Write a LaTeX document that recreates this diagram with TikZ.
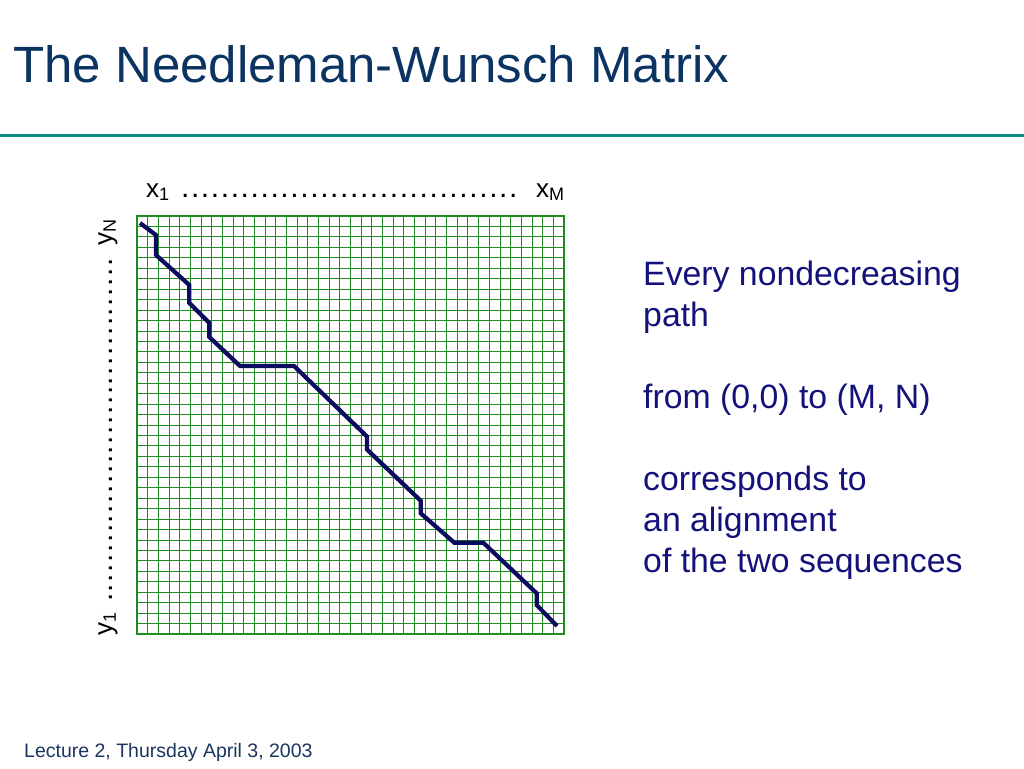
\documentclass[tikz,border=0pt]{standalone}
\usepackage{fontspec}
\setmainfont{Liberation Sans}
\definecolor{titleblue}{HTML}{0B3463}
\definecolor{teal1}{HTML}{0E8A88}
\definecolor{gridgreen}{HTML}{1E8C1E}
\definecolor{pathnavy}{HTML}{0A0A5E}
\definecolor{textnavy}{HTML}{12127A}
\definecolor{footblue}{HTML}{1A3560}
\newcommand{\dotrow}[1]{\hbox to #1{\fontsize{30}{30}\selectfont\xleaders\hbox to 9.75pt{\hss.\hss}\hfill}}
\tikzset{
  gridline/.style={draw=gridgreen, line width=0.9pt},
  gridframe/.style={draw=gridgreen, line width=2pt},
  alignpath/.style={draw=pathnavy, line width=4.2pt, line join=miter},
  bodytext/.style={text=textnavy, font=\fontsize{33.8}{41}\selectfont, anchor=base west, inner sep=0pt, align=left},
  axistext/.style={text=black, font=\fontsize{26}{30}\selectfont, inner sep=0pt},
}
\begin{document}
\begin{tikzpicture}[x=1pt,y=-1pt]
\useasboundingbox (0,0) rectangle (1024,768);
% title
\node[anchor=base west, inner sep=0pt, text=titleblue, font=\fontsize{51}{57}\selectfont] (title) at (13,82) {The Needleman-Wunsch Matrix};
\draw[teal1, line width=3pt] (0,135) -- (1024,135);
% grid
\foreach \i in {1,...,39} {
  \draw[gridline] ({137+\i*10.675},216) -- ({137+\i*10.675},634);
  \draw[gridline] (137,{216+\i*10.45}) -- (564,{216+\i*10.45});
}
\draw[gridframe] (137,216) rectangle (564,634);
% path
\draw[alignpath] (140,223) -- (156,235) -- (156,255) -- (189.3,285) -- (189.3,303) -- (209.3,323) -- (209.3,337) -- (240,366) -- (294,366) -- (367,436.5) -- (367,449.5) -- (420.7,500.7) -- (420.7,513.3) -- (454.3,542.7) -- (483.3,542.7) -- (536.7,593.3) -- (536.7,605) -- (557,626);
% x labels
\node[axistext, anchor=base west] (x1) at (146,197) {x\textsubscript{\fontsize{18}{20}\selectfont 1}};
\node[axistext, anchor=base west] (dotsx) at (180,197) {\dotrow{338pt}};
\node[axistext, anchor=base west] (xM) at (536,197) {x\textsubscript{\fontsize{18}{20}\selectfont M}};
% y labels
\node[axistext, anchor=base west, rotate=90] (y1) at (112,636) {y\textsubscript{\fontsize{18}{20}\selectfont 1}};
\node[axistext, anchor=base west, rotate=90] (dotsy) at (112,603) {\dotrow{345pt}};
\node[axistext, anchor=base west, rotate=90] (yN) at (112,246) {y\textsubscript{\fontsize{18}{20}\selectfont N}};
% right text
\node[bodytext] (t1) at (643,326) {Every nondecreasing\\path};
\node[bodytext] (t2) at (643,408) {from (0,0) to (M, N)};
\node[bodytext] (t3) at (643,572) {corresponds to\\an alignment\\of the two sequences};
% footer
\node[anchor=base west, inner sep=0pt, text=footblue, font=\fontsize{19.5}{22}\selectfont] (foot) at (24,757) {Lecture 2, Thursday April 3, 2003};
\end{tikzpicture}
\end{document}
